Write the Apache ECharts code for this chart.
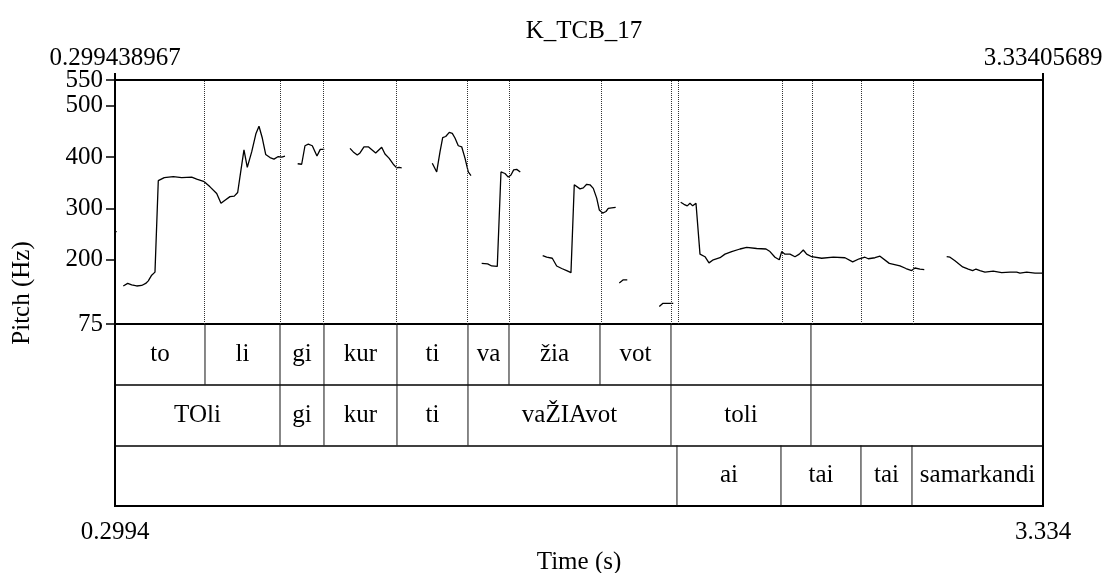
<!DOCTYPE html>
<html>
<head>
<meta charset="utf-8">
<title>K_TCB_17</title>
<script src="https://cdn.jsdelivr.net/npm/echarts@6/dist/echarts.min.js"></script>
<style>
  html, body { margin: 0; padding: 0; background: #fff; }
  #chart { width: 1109px; height: 573px; }
</style>
</head>
<body>
<div id="chart"></div>
<script>
// Time window of the analysed selection (s) and pitch range (Hz)
const timeRange = [0.299438967, 3.33405689];
const pitchRange = [75, 550];
const pitchTicks = [75, 200, 300, 400, 500, 550];
const topTickLabels = ['0.299438967', '3.33405689'];
const bottomTickLabels = ['0.2994', '3.334'];

// Pitch contour, voiced stretches as [time (s), F0 (Hz)]
const voiced0 = [[0.2994, 255], [0.3050, 255]];
const voiced1 = [
  [0.3265, 149], [0.3409, 154], [0.3540, 151], [0.3704, 149], [0.3867, 150],
  [0.3998, 154], [0.4083, 159], [0.4194, 170], [0.4302, 176], [0.4410, 354],
  [0.4606, 360], [0.4900, 362], [0.5175, 360], [0.5502, 361], [0.5666, 357],
  [0.5914, 352], [0.6101, 342], [0.6320, 329], [0.6460, 310], [0.6591, 316],
  [0.6755, 323], [0.6895, 324], [0.7006, 331], [0.7114, 375], [0.7212, 414],
  [0.7320, 380], [0.7464, 410], [0.7605, 446], [0.7703, 460], [0.7811, 437],
  [0.7922, 405], [0.8063, 399], [0.8193, 396], [0.8334, 401], [0.8445, 400],
  [0.8553, 402]
];
const voiced2 = [
  [0.8968, 387], [0.9099, 386], [0.9207, 422], [0.9315, 425], [0.9446, 422],
  [0.9599, 402], [0.9707, 415], [0.9838, 415]
];
const voiced3 = [
  [1.0679, 417], [1.0786, 410], [1.0917, 404], [1.1006, 408], [1.1136, 420],
  [1.1277, 420], [1.1519, 408], [1.1715, 419], [1.1823, 406], [1.1954, 398],
  [1.2094, 386], [1.2206, 379], [1.2281, 380], [1.2369, 379]
];
const voiced4 = [
  [1.3370, 388], [1.3514, 371], [1.3622, 410], [1.3710, 438], [1.3808, 440],
  [1.3926, 448], [1.4024, 446], [1.4112, 437], [1.4220, 422], [1.4331, 420],
  [1.4439, 398], [1.4547, 371], [1.4635, 364]
];
const voiced5 = [
  [1.4985, 193], [1.5181, 192], [1.5312, 188], [1.5495, 187], [1.5616, 371],
  [1.5747, 368], [1.5855, 361], [1.5943, 365], [1.6031, 375], [1.6130, 376],
  [1.6247, 371]
];
const voiced6 = [
  [1.6980, 208], [1.7111, 205], [1.7294, 203], [1.7438, 188], [1.7601, 183],
  [1.7765, 179], [1.7905, 175], [1.8013, 346], [1.8200, 338], [1.8308, 340],
  [1.8419, 347], [1.8527, 346], [1.8635, 339], [1.8746, 320], [1.8831, 297],
  [1.8942, 291], [1.9050, 294], [1.9125, 300], [1.9236, 301], [1.9367, 302]
];
const voiced7 = [[1.9485, 155], [1.9616, 161], [1.9746, 161]];
const voiced8 = [[2.0793, 109], [2.0904, 115], [2.1035, 115], [2.1250, 115]];
const voiced9 = [
  [2.1493, 312], [2.1600, 308], [2.1708, 305], [2.1797, 310], [2.1885, 305],
  [2.1993, 310], [2.2124, 211], [2.2287, 206], [2.2418, 194], [2.2559, 200],
  [2.2778, 204], [2.2941, 211], [2.3160, 216], [2.3432, 221], [2.3651, 224],
  [2.3978, 222], [2.4282, 221], [2.4413, 216], [2.4576, 205], [2.4717, 200],
  [2.4795, 216], [2.4903, 211], [2.5067, 211], [2.5230, 206], [2.5371, 211],
  [2.5502, 219], [2.5613, 211], [2.5777, 206], [2.6104, 203], [2.6483, 205],
  [2.6865, 204], [2.7117, 196], [2.7333, 202], [2.7519, 205], [2.7627, 202],
  [2.7846, 204], [2.8010, 207], [2.8314, 193], [2.8664, 188], [2.8860, 183],
  [2.9046, 179], [2.9154, 184], [2.9318, 182], [2.9458, 181]
];
const voiced10 = [
  [3.0191, 206], [3.0299, 205], [3.0462, 198], [3.0714, 186], [3.0897, 182],
  [3.1041, 179], [3.1149, 182], [3.1280, 179], [3.1443, 176], [3.1714, 178],
  [3.1989, 175], [3.2261, 176], [3.2480, 176], [3.2588, 174], [3.2807, 176],
  [3.3078, 174], [3.3330, 174]
];
const voicedStretches = [voiced0, voiced1, voiced2, voiced3, voiced4, voiced5,
  voiced6, voiced7, voiced8, voiced9, voiced10];

// Interval tiers: boundary times and interval labels
const tier1Bounds = [timeRange[0], 0.5937, 0.8390, 0.9828, 1.2215, 1.4537, 1.5878,
  1.8854, 2.1175, 2.5753, timeRange[1]];
const tier1Labels = ['to', 'li', 'gi', 'kur', 'ti', 'va', 'žia', 'vot', '', ''];
const tier2Bounds = [timeRange[0], 0.8390, 0.9828, 1.2215, 1.4537, 2.1175, 2.5753, timeRange[1]];
const tier2Labels = ['TOli', 'gi', 'kur', 'ti', 'vaŽIAvot', 'toli', ''];
const tier3Bounds = [timeRange[0], 2.1371, 2.4772, 2.7388, 2.9056, timeRange[1]];
const tier3Labels = ['', 'ai', 'tai', 'tai', 'samarkandi'];

const SERIF = '"Liberation Serif", "Times New Roman", serif';
const FS = 25;

const tiers = [[tier1Bounds, tier1Labels], [tier2Bounds, tier2Labels], [tier3Bounds, tier3Labels]];
const intervals = [];
tiers.forEach(([bounds, labels], row) => {
  labels.forEach((lab, i) => intervals.push({ value: [bounds[i], bounds[i + 1], row], label: lab }));
});

// every interior boundary is echoed as a dotted line over the pitch panel
const boundaryTimes = [];
tiers.forEach(([bounds]) => bounds.slice(1, -1).forEach(t => {
  if (!boundaryTimes.some(b => Math.abs(b - t) < 1e-6)) boundaryTimes.push(t);
}));

function renderInterval(params, api) {
  const t0 = api.value(0), t1 = api.value(1), row = api.value(2);
  const a = api.coord([t0, row]);
  const b = api.coord([t1, row + 1]);
  const children = [];
  if (t1 < timeRange[1] - 1e-6) {
    children.push({
      type: 'line',
      shape: { x1: b[0], y1: a[1], x2: b[0], y2: b[1] },
      style: { stroke: '#111', lineWidth: 1 }
    });
  }
  const lab = intervals[params.dataIndex].label;
  if (lab) {
    children.push({
      type: 'text',
      style: {
        text: lab, x: (a[0] + b[0]) / 2, y: (a[1] + b[1]) / 2,
        align: 'center', verticalAlign: 'middle',
        font: FS + 'px ' + SERIF, fill: '#000'
      }
    });
  }
  return { type: 'group', children };
}

const chart = echarts.init(document.getElementById('chart'), null, { renderer: 'canvas' });

const lineSeries = voicedStretches.map((pts, i) => ({
  type: 'line',
  xAxisIndex: 0, yAxisIndex: 0,
  data: pts,
  showSymbol: false,
  symbol: 'none',
  silent: true,
  lineStyle: { color: '#000', width: 1.3 },
  markLine: i === 0 ? {
    silent: true,
    symbol: 'none',
    label: { show: false },
    lineStyle: { color: '#333', width: 1, type: [1, 1] },
    data: boundaryTimes.map(t => ({ xAxis: t }))
  } : undefined,
  z: 3
}));

chart.setOption({
  animation: false,
  backgroundColor: '#fff',
  title: {
    text: 'K_TCB_17',
    left: 579, top: 14, textAlign: 'center',
    textStyle: { fontFamily: SERIF, fontSize: FS, fontWeight: 'normal', color: '#000' }
  },
  graphic: [{
    type: 'text',
    x: 22, y: 293, rotation: Math.PI / 2,
    style: {
      text: 'Pitch (Hz)', align: 'center', verticalAlign: 'middle',
      font: FS + 'px ' + SERIF, fill: '#000'
    }
  }],
  grid: [
    { left: 115, right: 66, top: 80, height: 244, show: true, borderColor: '#000', borderWidth: 2, outerBoundsMode: 'none' },
    { left: 115, right: 66, top: 324, height: 182, show: true, borderColor: '#000', borderWidth: 2, outerBoundsMode: 'none' }
  ],
  xAxis: [
    {
      gridIndex: 0, type: 'value', position: 'top',
      min: timeRange[0], max: timeRange[1],
      axisLine: { show: false },
      splitLine: { show: false },
      axisTick: { show: true, inside: false, length: 7, customValues: timeRange, lineStyle: { color: '#000', width: 2 } },
      axisLabel: {
        customValues: timeRange, margin: 9, hideOverlap: false,
        alignMinLabel: 'center', alignMaxLabel: 'center',
        formatter: (v) => topTickLabels[Math.abs(v - timeRange[0]) < 1e-6 ? 0 : 1],
        fontFamily: SERIF, fontSize: FS, color: '#000'
      }
    },
    {
      gridIndex: 1, type: 'value', position: 'bottom',
      min: timeRange[0], max: timeRange[1],
      axisLine: { show: false },
      splitLine: { show: false },
      axisTick: { show: true, inside: false, length: 7, customValues: timeRange, lineStyle: { color: '#000', width: 2 } },
      axisLabel: {
        customValues: timeRange, margin: 14, hideOverlap: false,
        alignMinLabel: 'center', alignMaxLabel: 'center',
        formatter: (v) => bottomTickLabels[Math.abs(v - timeRange[0]) < 1e-6 ? 0 : 1],
        fontFamily: SERIF, fontSize: FS, color: '#000'
      },
      name: 'Time (s)', nameLocation: 'middle', nameGap: 44,
      nameTextStyle: { fontFamily: SERIF, fontSize: FS, color: '#000' }
    }
  ],
  yAxis: [
    {
      gridIndex: 0, type: 'value',
      min: pitchRange[0], max: pitchRange[1],
      axisLine: { show: false },
      splitLine: { show: false },
      axisTick: { show: true, inside: false, length: 9, customValues: pitchTicks, lineStyle: { color: '#000', width: 1.5 } },
      axisLabel: {
        customValues: pitchTicks, margin: 12,
        hideOverlap: false, showMinLabel: true, showMaxLabel: true,
        fontFamily: SERIF, fontSize: FS, color: '#000'
      }
    },
    {
      gridIndex: 1, type: 'value', inverse: true,
      min: 0, max: 3, interval: 1,
      axisLine: { show: false },
      axisTick: { show: false },
      axisLabel: { show: false },
      splitLine: { show: true, lineStyle: { color: '#000', width: 1.5 } }
    }
  ],
  series: lineSeries.concat([{
    type: 'custom',
    xAxisIndex: 1, yAxisIndex: 1,
    renderItem: renderInterval,
    data: intervals.map(d => d.value),
    silent: true,
    z: 4
  }])
});
</script>
</body>
</html>
